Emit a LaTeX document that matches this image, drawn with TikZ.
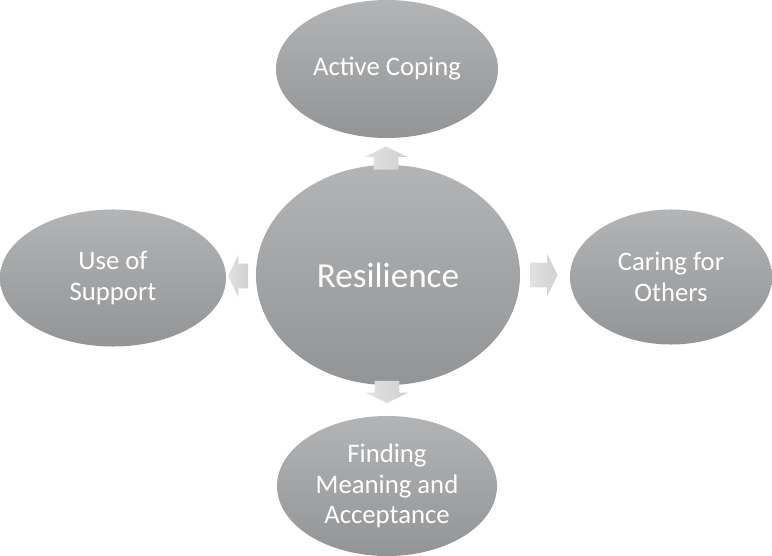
\documentclass[tikz,border=0pt]{standalone}
\usepackage{fontspec}
\setmainfont{Carlito}
\usetikzlibrary{shapes.geometric,shapes.arrows}
\definecolor{ovaltop}{HTML}{B3B4B6}
\definecolor{ovalbot}{HTML}{939496}
\definecolor{arrtop}{HTML}{E2E2E3}
\definecolor{arrbot}{HTML}{CFD0D1}
\begin{document}
\begin{tikzpicture}[x=0.025cm, y=-0.025cm,
    oval/.style={ellipse, inner sep=0pt, top color=ovaltop, bottom color=ovalbot, draw=none, text=white, align=center, font=\fontsize{19}{21.5}\selectfont},
    blk/.style={single arrow, inner xsep=0pt, inner ysep=0.3cm, minimum width=1.05cm, single arrow head extend=0.225cm, single arrow tip angle=128, left color=arrtop, right color=arrbot, draw=none}
]
\useasboundingbox (0,0) rectangle (772,556);
\node[oval, minimum width=6.6cm, minimum height=5.5cm, font=\fontsize{25}{30}\selectfont] (res) at (388,275) {Resilience};
\node[oval, minimum width=5.55cm, minimum height=3.45cm] (cope) at (387,69) {Active Coping};
\node[oval, minimum width=5.65cm, minimum height=3.425cm] (supp) at (113,278) {Use of\\Support};
\node[oval, minimum width=5.05cm, minimum height=3.375cm] (care) at (671,277) {Caring for\\Others};
\node[oval, minimum width=5.5cm, minimum height=3.5cm] (mean) at (387,486) {Finding\\Meaning and\\Acceptance};
% block arrows between the ovals
\node[blk, minimum height=0.575cm, rotate=90] (toCope) at (386,161) {};
\node[blk, minimum height=0.5cm, rotate=180] (toSupp) at (241,276) {};
\node[blk, minimum height=0.675cm] (toCare) at (541,275) {};
\node[blk, minimum height=0.55cm, rotate=270] (toMean) at (387,389) {};
\end{tikzpicture}
\end{document}
